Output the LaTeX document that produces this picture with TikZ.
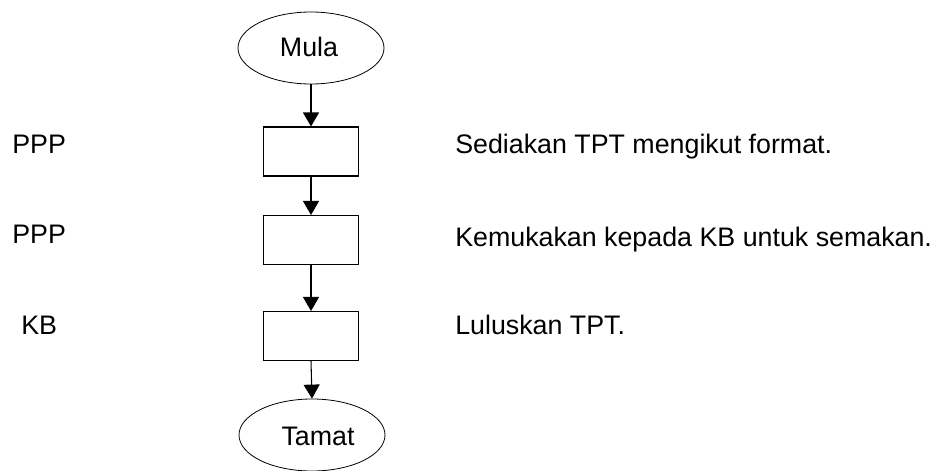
\documentclass[tikz,border=0pt]{standalone}
\usepackage{fontspec}
\setmainfont{Liberation Sans}
\usetikzlibrary{shapes.geometric,arrows.meta}
\tikzset{
  every node/.style={font=\fontsize{20.1}{24}\selectfont},
  terminal/.style={draw, ellipse, line width=0.6pt, minimum width=109.5pt, minimum height=54pt, inner sep=0pt},
  stepbox/.style={draw, rectangle, line width=0.8pt, minimum width=71.25pt, minimum height=36.75pt, inner sep=0pt},
  lbl/.style={anchor=base west, inner sep=0pt},
  flow/.style={line width=0.8pt, -{Triangle[length=10.5pt, width=12pt]}}
}
\begin{document}
\begin{tikzpicture}[x=0.75pt,y=-0.75pt]
\useasboundingbox (0,0) rectangle (936,471);
\node[terminal] (mula) at (311,48) {};
\node[anchor=base, inner sep=0pt] (mulat) at (309,56) {Mula};
\node[stepbox] (b1) at (311,151.5) {};
\node[stepbox] (b2) at (311,240) {};
\node[stepbox] (b3) at (311,336) {};
\node[terminal] (tamat) at (312,435) {};
\node[anchor=base, inner sep=0pt] (tamatt) at (318,445) {Tamat};
\draw[flow] (mula.south) -- (b1.north);
\draw[flow] (b1.south) -- (b2.north);
\draw[flow] (b2.south) -- (b3.north);
\draw[flow] (b3.south) -- (tamat.north);
\node[lbl] (p1) at (12,153) {PPP};
\node[lbl] (p2) at (12,243) {PPP};
\node[lbl] (k1) at (21,334) {KB};
\node[lbl] (t1) at (455,153) {Sediakan TPT mengikut format.};
\node[lbl] (t2) at (455,246) {Kemukakan kepada KB untuk semakan.};
\node[lbl] (t3) at (455,334) {Luluskan TPT.};
\end{tikzpicture}
\end{document}
